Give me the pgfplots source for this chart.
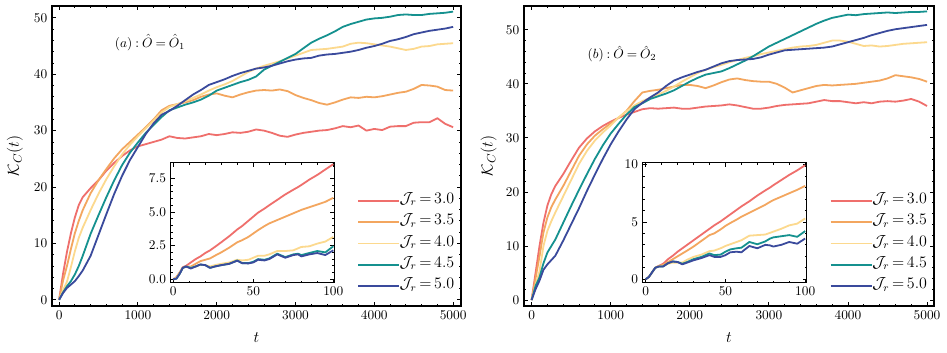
\documentclass[border=0pt]{standalone}
\usepackage{pgfplots}
\usepackage{pgfplotstable}
\pgfplotsset{compat=1.18}
\definecolor{cA}{HTML}{EF6F6C}
\definecolor{cB}{HTML}{F3A65F}
\definecolor{cC}{HTML}{FCD98E}
\definecolor{cD}{HTML}{15918F}
\definecolor{cE}{HTML}{3A4A9C}

\pgfplotstableread{
t r o y g n
0 0 0 0 0 0
50 4.6 3.4 1.7 1.3 1.2
100 8.5 6.0 3.2 2.4 2.1
150 11.8 9.0 5.8 3.3 2.7
200 14.6 11.8 8.6 4.5 3.3
250 16.8 14.0 11.0 6.0 4.2
300 18.2 15.9 12.8 7.8 5.2
400 19.8 18.9 15.9 11.7 7.8
500 21.2 21.2 18.8 15.0 11.5
600 22.9 23.2 21.4 18.2 15.2
700 24.3 25.1 23.7 21.2 18.8
800 25.5 26.7 25.8 23.9 22.0
900 26.5 28.0 27.5 26.1 24.8
1000 27.2 29.3 29.0 27.9 27.1
1100 27.6 30.6 30.4 29.6 29.4
1200 28.0 32.0 31.8 31.0 31.3
1300 28.4 33.6 33.2 32.4 32.8
1400 29.0 34.4 34.2 33.6 33.5
1500 28.7 34.7 34.7 34.1 34.4
1600 28.6 35.0 35.2 34.6 35.4
1700 28.8 35.4 35.8 35.0 36.4
1800 29.0 36.0 36.4 35.5 37.2
1900 29.4 36.4 37.1 36.2 38.1
2000 29.2 36.6 37.7 37.1 38.6
2100 29.4 36.2 38.2 37.6 39.1
2200 29.7 35.9 38.8 38.1 39.7
2300 29.6 36.4 39.6 38.6 40.2
2400 29.8 36.8 40.4 39.0 40.6
2500 30.2 37.1 41.0 39.6 41.0
2600 30.0 37.2 41.5 40.8 41.2
2700 29.6 37.1 41.9 41.5 41.5
2800 29.1 37.3 42.3 42.2 41.9
2900 28.9 37.0 42.8 42.9 42.3
3000 29.3 36.3 43.3 43.6 42.6
3100 29.6 35.8 43.8 44.6 42.8
3200 29.8 35.4 44.3 45.6 42.9
3300 30.0 34.9 44.4 46.3 43.3
3400 30.1 34.6 44.5 46.9 43.5
3500 30.4 35.0 44.7 47.6 43.6
3600 30.8 35.5 44.9 48.4 43.8
3700 30.6 35.9 45.4 48.9 44.0
3800 30.9 35.8 45.6 49.3 44.3
3900 30.0 36.0 45.5 49.7 44.7
4000 30.3 35.9 45.3 49.9 45.0
4100 30.1 36.1 45.1 50.0 45.4
4200 30.7 36.4 44.9 50.2 45.9
4300 30.8 36.7 44.6 50.5 46.2
4400 30.8 36.9 44.3 50.6 46.6
4500 31.4 37.4 44.5 50.5 47.1
4600 31.5 38.1 44.9 50.5 47.4
4700 31.5 38.0 45.0 50.7 47.7
4800 32.2 37.8 45.3 50.8 47.9
4900 31.2 37.2 45.4 50.9 48.1
5000 30.6 37.1 45.5 51.1 48.4
}\mainA

\pgfplotstableread{
t r o y g n
0 0 0 0 0 0
2 0.15 0.15 0.1 0.05 0.05
4 0.5 0.5 0.45 0.4 0.4
6 0.9 0.85 0.85 0.85 0.85
8 1.0 0.95 0.92 0.95 0.95
11 1.25 0.95 0.88 0.85 0.8
14 1.5 1.15 0.95 0.95 0.95
17 1.7 1.35 1.08 1.1 1.1
20 1.95 1.45 1.05 1.05 1.05
23 2.15 1.55 0.95 0.85 0.85
26 2.4 1.75 1.05 0.95 0.95
30 2.75 2.0 1.15 1.05 1.05
35 3.2 2.35 1.25 1.15 1.15
40 3.7 2.75 1.45 1.4 1.38
43 3.95 2.9 1.4 1.2 1.2
47 4.35 3.15 1.45 1.2 1.18
50 4.65 3.4 1.6 1.3 1.25
53 4.95 3.65 1.75 1.5 1.45
57 5.25 3.95 1.75 1.45 1.4
60 5.5 4.15 1.85 1.55 1.5
65 5.9 4.4 2.1 1.9 1.85
70 6.3 4.65 2.1 1.65 1.6
75 6.65 4.9 2.15 1.85 1.8
78 6.85 5.05 2.3 1.9 1.85
80 7.0 5.15 2.4 1.8 1.7
85 7.4 5.35 2.45 1.95 1.85
90 7.75 5.55 2.65 2.1 1.95
95 8.15 5.75 2.8 2.0 1.8
100 8.55 6.05 3.15 2.45 2.15
}\insetA

\pgfplotstableread{
t r o y g n
0 0 0 0 0 0
50 5.0 4.0 2.8 2.6 2.0
100 10.0 8.1 5.3 4.2 3.6
150 14.3 12.5 10.0 6.8 5.6
200 17.5 15.3 12.8 8.8 6.6
250 19.6 17.2 14.6 10.0 7.4
300 21.1 18.6 16.2 11.2 8.2
400 23.3 21.1 19.2 14.3 11.0
500 25.8 23.9 22.2 17.4 14.0
600 28.2 26.7 25.2 20.4 17.0
700 29.9 28.8 27.6 23.3 20.2
800 31.2 30.4 29.5 26.1 23.2
900 32.2 31.6 31.0 28.6 26.1
1000 33.0 32.7 32.3 30.8 28.8
1100 33.7 33.7 33.8 32.6 31.2
1200 34.3 35.0 34.9 34.3 33.4
1300 34.8 36.8 36.0 35.7 35.3
1400 35.3 38.4 36.8 36.4 36.5
1500 35.5 38.7 37.4 37.2 37.5
1600 35.4 38.9 38.0 37.7 38.4
1700 35.5 39.2 38.7 38.2 39.6
1800 35.6 39.5 39.5 38.8 40.6
1900 35.4 39.8 40.4 39.6 41.2
2000 35.4 39.8 41.2 40.4 41.7
2100 35.6 39.6 42.0 41.1 42.2
2200 35.8 39.2 42.6 41.7 42.6
2300 35.9 39.7 43.1 42.0 43.2
2400 36.0 40.3 43.5 42.3 43.8
2500 36.2 40.8 44.0 42.9 44.2
2600 36.0 41.0 44.4 43.6 44.4
2700 35.7 40.7 44.8 44.3 44.5
2800 35.4 40.5 45.1 45.1 44.6
2900 35.4 40.4 45.5 46.0 44.9
3000 35.6 40.4 45.8 46.9 45.4
3100 35.9 40.0 46.1 47.6 45.8
3200 36.1 39.3 46.4 48.3 46.2
3300 36.2 38.4 46.7 49.0 46.3
3400 36.3 38.8 46.9 49.7 46.4
3500 36.4 39.2 47.0 50.4 46.5
3600 36.7 39.6 47.2 51.1 46.6
3700 37.0 39.8 47.6 51.7 46.7
3800 36.8 39.7 48.0 52.2 46.9
3900 36.8 39.8 48.0 52.5 47.3
4000 36.6 39.9 47.8 52.8 47.7
4100 36.4 40.0 47.4 52.7 48.1
4200 36.6 40.2 47.0 52.9 48.5
4300 36.4 40.4 47.1 53.0 49.0
4400 36.7 40.6 46.9 53.1 49.4
4500 36.8 41.0 47.0 53.2 49.8
4600 36.7 41.6 47.2 53.1 50.1
4700 36.9 41.4 47.4 53.2 50.3
4800 37.2 41.2 47.5 53.3 50.5
4900 36.7 40.9 47.6 53.3 50.7
5000 35.9 40.4 47.7 53.4 50.9
}\mainB

\pgfplotstableread{
t r o y g n
0 0 0 0 0 0
2 0.2 0.2 0.2 0.2 0.2
4 0.6 0.6 0.6 0.6 0.6
6 1.0 1.0 1.0 1.0 1.0
8 1.15 1.15 1.1 1.1 1.1
11 1.35 1.25 1.15 1.12 1.12
14 1.75 1.5 1.35 1.4 1.4
17 2.05 1.75 1.45 1.55 1.55
20 2.4 2.0 1.45 1.5 1.5
23 2.7 2.25 1.45 1.35 1.3
26 3.0 2.5 1.7 1.5 1.45
30 3.4 2.85 1.95 1.75 1.65
35 3.9 3.35 2.15 1.95 1.85
40 4.4 3.85 2.45 2.25 2.1
43 4.7 4.0 2.5 2.1 1.95
47 5.05 4.35 2.7 2.15 1.95
50 5.35 4.65 2.9 2.4 2.1
53 5.65 4.9 3.05 2.6 2.35
57 6.05 5.2 3.25 2.7 2.4
60 6.35 5.45 3.4 2.75 2.35
65 6.8 5.8 3.8 3.25 2.9
70 7.3 6.15 3.85 3.05 2.7
75 7.75 6.5 3.9 3.3 3.0
78 8.0 6.75 4.05 3.55 2.95
80 8.2 6.9 4.15 3.65 2.85
85 8.65 7.2 4.4 3.75 3.0
90 9.1 7.5 4.7 3.85 3.25
95 9.5 7.8 4.85 3.7 3.1
100 9.95 8.15 5.3 4.2 3.55
}\insetB

\newcommand{\Jr}[1]{$\mathcal{J}_r\mskip3mu{=}\mskip3mu#1$}

\pgfplotsset{
  sty/.style={
    scale only axis,
    tick align=inside,
    xtick pos=both, ytick pos=both,
    minor x tick num=4, minor y tick num=4,
    major tick length=3pt, minor tick length=1.6pt,
    axis line style={line width=0.8pt},
    every tick/.style={black, line width=0.6pt},
    tick label style={font=\fontsize{10}{12}\selectfont},
    scaled ticks=false,
    /pgf/number format/1000 sep={},
    every axis plot/.append style={line width=1.35pt, line join=round},
    axis background/.style={fill=white},
  },
  leg/.style={
    legend cell align=left,
    legend style={draw=none, fill=none, inner sep=0pt, row sep=0pt,
      at={(rel axis cs:0.7457,0.3867)}, anchor=north west,
      nodes={inner sep=0pt, anchor=west, text height=10pt, text depth=6pt},
      font=\fontsize{11.5}{14}\selectfont},
    legend image code/.code={\draw[##1, line width=1.35pt] (0pt,0pt) -- (22.5pt,0pt); \path (0pt,0pt) -- (30.5pt,0pt);},
  },
}

\begin{document}
\begin{tikzpicture}
\useasboundingbox (-39pt,-35.25pt) rectangle (671.25pt,229.5pt);
% ---- panel (a)
\begin{axis}[sty, leg, at={(0pt,0pt)}, anchor=south west,
  width=306.75pt, height=225pt,
  xmin=-90, xmax=5100, ymin=-1.1, ymax=52.1,
  xtick={0,1000,...,5000}, ytick={0,10,...,50},
  xlabel={$t$}, ylabel={$\mathcal{K}_C(t)$},
  label style={font=\fontsize{12.5}{14}\selectfont},
  xlabel style={at={(axis description cs:0.5,-0.1067)}, anchor=center},
  ylabel style={at={(axis description cs:-0.0905,0.5)}, anchor=center},
]
\addplot[cA] table[x=t,y=r]{\mainA}; \addlegendentry{\Jr{3.0}}
\addplot[cB] table[x=t,y=o]{\mainA}; \addlegendentry{\Jr{3.5}}
\addplot[cC] table[x=t,y=y]{\mainA}; \addlegendentry{\Jr{4.0}}
\addplot[cD] table[x=t,y=g]{\mainA}; \addlegendentry{\Jr{4.5}}
\addplot[cE] table[x=t,y=n]{\mainA}; \addlegendentry{\Jr{5.0}}
\node[font=\fontsize{10}{12}\selectfont] at (rel axis cs:0.2396,0.878) {$(a)\mskip4mu{:}\mskip4mu\hat{O}\mskip4mu{=}\mskip4mu\hat{O}_1$};
\end{axis}
\begin{axis}[sty, at={(89pt,17.5pt)}, anchor=south west,
  width=122.7pt, height=90pt,
  xmin=-1.6, xmax=100.6, ymin=-0.25, ymax=8.66,
  xtick={0,50,100}, ytick={0,2.5,5,7.5},
  yticklabel style={/pgf/number format/.cd, fixed, fixed zerofill, precision=1},
]
\addplot[cA] table[x=t,y=r]{\insetA};
\addplot[cB] table[x=t,y=o]{\insetA};
\addplot[cC] table[x=t,y=y]{\insetA};
\addplot[cD] table[x=t,y=g]{\insetA};
\addplot[cE] table[x=t,y=n]{\insetA};
\end{axis}
% ---- panel (b)
\begin{axis}[sty, leg, at={(354pt,0pt)}, anchor=south west,
  width=307.5pt, height=225pt,
  xmin=-96, xmax=5088, ymin=-1.1, ymax=54.4,
  xtick={0,1000,...,5000}, ytick={0,10,...,50},
  xlabel={$t$}, ylabel={$\mathcal{K}_C(t)$},
  label style={font=\fontsize{12.5}{14}\selectfont},
  xlabel style={at={(axis description cs:0.5,-0.1067)}, anchor=center},
  ylabel style={at={(axis description cs:-0.086,0.5)}, anchor=center},
]
\addplot[cA] table[x=t,y=r]{\mainB}; \addlegendentry{\Jr{3.0}}
\addplot[cB] table[x=t,y=o]{\mainB}; \addlegendentry{\Jr{3.5}}
\addplot[cC] table[x=t,y=y]{\mainB}; \addlegendentry{\Jr{4.0}}
\addplot[cD] table[x=t,y=g]{\mainB}; \addlegendentry{\Jr{4.5}}
\addplot[cE] table[x=t,y=n]{\mainB}; \addlegendentry{\Jr{5.0}}
\node[font=\fontsize{10}{12}\selectfont] at (rel axis cs:0.239,0.84) {$(b)\mskip4mu{:}\mskip4mu\hat{O}\mskip4mu{=}\mskip4mu\hat{O}_2$};
\end{axis}
\begin{axis}[sty, at={(443pt,17.5pt)}, anchor=south west,
  width=123.2pt, height=90pt,
  xmin=-1.9, xmax=101.1, ymin=-0.3, ymax=10.17,
  xtick={0,50,100}, ytick={0,5,10},
]
\addplot[cA] table[x=t,y=r]{\insetB};
\addplot[cB] table[x=t,y=o]{\insetB};
\addplot[cC] table[x=t,y=y]{\insetB};
\addplot[cD] table[x=t,y=g]{\insetB};
\addplot[cE] table[x=t,y=n]{\insetB};
\end{axis}
\end{tikzpicture}
\end{document}
